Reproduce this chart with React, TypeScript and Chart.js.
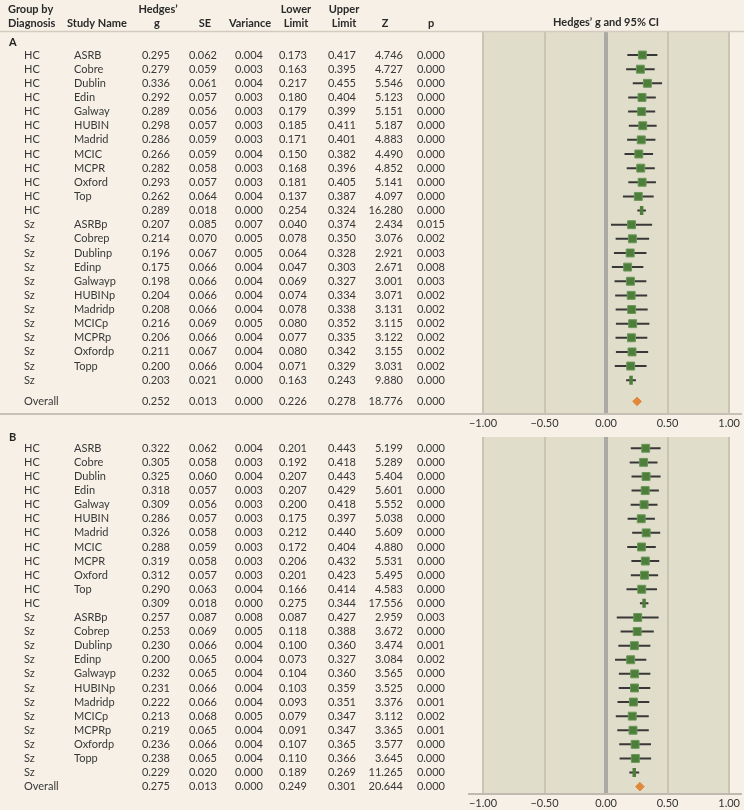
import React, { useEffect, useRef } from "react";
import { Chart, registerables } from "chart.js";

Chart.register(...registerables);

// ---------- data ----------
const groupLabels = [
  "HC", "HC", "HC", "HC", "HC", "HC", "HC", "HC", "HC", "HC", "HC", "HC",
  "Sz", "Sz", "Sz", "Sz", "Sz", "Sz", "Sz", "Sz", "Sz", "Sz", "Sz", "Sz",
  "Overall",
];
const studyLabels = [
  "ASRB", "Cobre", "Dublin", "Edin", "Galway", "HUBIN", "Madrid", "MCIC", "MCPR", "Oxford", "Top", "",
  "ASRBp", "Cobrep", "Dublinp", "Edinp", "Galwayp", "HUBINp", "Madridp", "MCICp", "MCPRp", "Oxfordp", "Topp", "",
  "",
];
const rowKinds = [
  "study", "study", "study", "study", "study", "study", "study", "study", "study", "study", "study", "subtotal",
  "study", "study", "study", "study", "study", "study", "study", "study", "study", "study", "study", "subtotal",
  "overall",
];

// Panel A
const hedgesA = [0.295, 0.279, 0.336, 0.292, 0.289, 0.298, 0.286, 0.266, 0.282, 0.293, 0.262, 0.289,
  0.207, 0.214, 0.196, 0.175, 0.198, 0.204, 0.208, 0.216, 0.206, 0.211, 0.200, 0.203, 0.252];
const seA = [0.062, 0.059, 0.061, 0.057, 0.056, 0.057, 0.059, 0.059, 0.058, 0.057, 0.064, 0.018,
  0.085, 0.070, 0.067, 0.066, 0.066, 0.066, 0.066, 0.069, 0.066, 0.067, 0.066, 0.021, 0.013];
const varianceA = [0.004, 0.003, 0.004, 0.003, 0.003, 0.003, 0.003, 0.004, 0.003, 0.003, 0.004, 0.000,
  0.007, 0.005, 0.005, 0.004, 0.004, 0.004, 0.004, 0.005, 0.004, 0.004, 0.004, 0.000, 0.000];
const lowerA = [0.173, 0.163, 0.217, 0.180, 0.179, 0.185, 0.171, 0.150, 0.168, 0.181, 0.137, 0.254,
  0.040, 0.078, 0.064, 0.047, 0.069, 0.074, 0.078, 0.080, 0.077, 0.080, 0.071, 0.163, 0.226];
const upperA = [0.417, 0.395, 0.455, 0.404, 0.399, 0.411, 0.401, 0.382, 0.396, 0.405, 0.387, 0.324,
  0.374, 0.350, 0.328, 0.303, 0.327, 0.334, 0.338, 0.352, 0.335, 0.342, 0.329, 0.243, 0.278];
const zA = [4.746, 4.727, 5.546, 5.123, 5.151, 5.187, 4.883, 4.490, 4.852, 5.141, 4.097, 16.280,
  2.434, 3.076, 2.921, 2.671, 3.001, 3.071, 3.131, 3.115, 3.122, 3.155, 3.031, 9.880, 18.776];
const pA = [0.000, 0.000, 0.000, 0.000, 0.000, 0.000, 0.000, 0.000, 0.000, 0.000, 0.000, 0.000,
  0.015, 0.002, 0.003, 0.008, 0.003, 0.002, 0.002, 0.002, 0.002, 0.002, 0.002, 0.000, 0.000];

// Panel B
const hedgesB = [0.322, 0.305, 0.325, 0.318, 0.309, 0.286, 0.326, 0.288, 0.319, 0.312, 0.290, 0.309,
  0.257, 0.253, 0.230, 0.200, 0.232, 0.231, 0.222, 0.213, 0.219, 0.236, 0.238, 0.229, 0.275];
const seB = [0.062, 0.058, 0.060, 0.057, 0.056, 0.057, 0.058, 0.059, 0.058, 0.057, 0.063, 0.018,
  0.087, 0.069, 0.066, 0.065, 0.065, 0.066, 0.066, 0.068, 0.065, 0.066, 0.065, 0.020, 0.013];
const varianceB = [0.004, 0.003, 0.004, 0.003, 0.003, 0.003, 0.003, 0.003, 0.003, 0.003, 0.004, 0.000,
  0.008, 0.005, 0.004, 0.004, 0.004, 0.004, 0.004, 0.005, 0.004, 0.004, 0.004, 0.000, 0.000];
const lowerB = [0.201, 0.192, 0.207, 0.207, 0.200, 0.175, 0.212, 0.172, 0.206, 0.201, 0.166, 0.275,
  0.087, 0.118, 0.100, 0.073, 0.104, 0.103, 0.093, 0.079, 0.091, 0.107, 0.110, 0.189, 0.249];
const upperB = [0.443, 0.418, 0.443, 0.429, 0.418, 0.397, 0.440, 0.404, 0.432, 0.423, 0.414, 0.344,
  0.427, 0.388, 0.360, 0.327, 0.360, 0.359, 0.351, 0.347, 0.347, 0.365, 0.366, 0.269, 0.301];
const zB = [5.199, 5.289, 5.404, 5.601, 5.552, 5.038, 5.609, 4.880, 5.531, 5.495, 4.583, 17.556,
  2.959, 3.672, 3.474, 3.084, 3.565, 3.525, 3.376, 3.112, 3.365, 3.577, 3.645, 11.265, 20.644];
const pB = [0.000, 0.000, 0.000, 0.000, 0.000, 0.000, 0.000, 0.000, 0.000, 0.000, 0.000, 0.000,
  0.003, 0.000, 0.001, 0.002, 0.000, 0.000, 0.001, 0.002, 0.001, 0.000, 0.000, 0.000, 0.000];

const axisTicks = [-1, -0.5, 0, 0.5, 1];
const headerTitle = "Hedges\u2019 g and 95% CI";

// ---------- styling ----------
const FONT = "Lato";
const CREAM = "#f6f0e6";
const PLOT_BG = "#e0ddca";
const GRID = "#c9c5b2";
const ZERO = "#aba9a3";
const GREEN = "#4d7f3b";
const ORANGE = "#e0883c";
const CI_COLOR = "#383838";
const TEXT = "#383838";

const colRight = [170, 217, 263, 307, 356, 403, 445];

type Panel = {
  key: string;
  label: string;
  cols: number[][];
  overallGap: number;
  yMin: number;
  yMax: number;
  labelPos: number;
  padTop: number;
  padBottom: number;
  axisHeight: number;
  header: boolean;
};

function rowPositions(n: number, overallGap: number) {
  return Array.from({ length: n }, (_, i) => (rowKinds[i] === "overall" ? i + overallGap : i));
}

function fmtTick(v: number) {
  const s = Math.abs(v).toFixed(2);
  return v < -1e-9 ? "\u2212" + s : s;
}

function buildConfig(p: Panel): any {
  const hedges = p.cols[0];
  const lower = p.cols[3];
  const upper = p.cols[4];
  const pos = rowPositions(groupLabels.length, p.overallGap);

  const pick = (kind: string) =>
    hedges.map((g, i) => ({ x: g, y: pos[i], k: rowKinds[i] })).filter((d) => d.k === kind).map((d) => ({ x: d.x, y: d.y }));

  const datasets: any[] = [
    {
      label: "study",
      data: pick("study"),
      pointStyle: "rect",
      pointRadius: 5.6,
      backgroundColor: GREEN,
      borderColor: "#6a985a",
      borderWidth: 1,
      order: 0,
    },
    {
      label: "subtotal",
      data: pick("subtotal"),
      pointStyle: "line",
      rotation: 90,
      pointRadius: 4.5,
      borderColor: GREEN,
      backgroundColor: GREEN,
      borderWidth: 3.5,
      order: 0,
    },
    {
      label: "overall",
      data: pick("overall"),
      pointStyle: "rectRot",
      pointRadius: 4.3,
      backgroundColor: ORANGE,
      borderColor: ORANGE,
      borderWidth: 1,
      order: 0,
    },
  ];
  lower.forEach((lo, i) => {
    if (rowKinds[i] === "overall") return;
    datasets.push({
      label: "ci" + i,
      data: [
        { x: lo, y: pos[i] },
        { x: upper[i], y: pos[i] },
      ],
      showLine: true,
      borderColor: CI_COLOR,
      borderWidth: 2,
      pointRadius: 0,
      order: 1,
    });
  });

  const plugin = {
    id: "panel" + p.key,
    beforeDraw(chart: any) {
      const { ctx, chartArea: ca } = chart;
      ctx.save();
      ctx.fillStyle = PLOT_BG;
      ctx.fillRect(ca.left, ca.top, ca.right - ca.left, ca.bottom - ca.top);
      ctx.restore();
    },
    afterDraw(chart: any) {
      const { ctx, chartArea: ca } = chart;
      const ys = chart.scales.y;
      ctx.save();
      // table body
      ctx.font = `11px ${FONT}`;
      ctx.fillStyle = TEXT;
      ctx.textBaseline = "middle";
      for (let i = 0; i < groupLabels.length; i++) {
        const py = ys.getPixelForValue(pos[i]);
        ctx.textAlign = "left";
        ctx.fillText(groupLabels[i], 24, py);
        if (studyLabels[i]) ctx.fillText(studyLabels[i], 74, py);
        ctx.textAlign = "right";
        p.cols.forEach((arr, c) => {
          ctx.fillText(arr[i].toFixed(3), colRight[c], py);
        });
      }
      // panel label
      ctx.font = `bold 11px ${FONT}`;
      ctx.fillStyle = "#222";
      ctx.textAlign = "left";
      ctx.fillText(p.label, 9, ys.getPixelForValue(p.labelPos));

      if (p.header) {
        ctx.fillStyle = "#2a2a2a";
        ctx.font = `bold 11px ${FONT}`;
        const l1 = 9;
        const l2 = 23;
        ctx.textAlign = "left";
        ctx.fillText("Group by", 8, l1);
        ctx.fillText("Diagnosis", 8, l2);
        ctx.fillText("Study Name", 67, l2);
        ctx.textAlign = "center";
        ctx.fillText("Hedges\u2019", 158, l1);
        ctx.fillText("g", 157, l2);
        ctx.fillText("SE", 205, l2);
        ctx.fillText("Variance", 250, l2);
        ctx.fillText("Lower", 296, l1);
        ctx.fillText("Limit", 296, l2);
        ctx.fillText("Upper", 344, l1);
        ctx.fillText("Limit", 344, l2);
        ctx.fillText("Z", 385, l2);
        ctx.fillText("p", 431, l2);
        ctx.fillText(headerTitle, (ca.left + ca.right) / 2, 22);
        // header rule
        ctx.strokeStyle = "#d2ccc0";
        ctx.lineWidth = 1.5;
        ctx.beginPath();
        ctx.moveTo(0, ca.top - 0.5);
        ctx.lineTo(744, ca.top - 0.5);
        ctx.stroke();
        // bottom separator (axis line across)
        ctx.strokeStyle = "#c6c1b6";
        ctx.lineWidth = 2;
        ctx.beginPath();
        ctx.moveTo(0, ca.bottom + 1);
        ctx.lineTo(742, ca.bottom + 1);
        ctx.stroke();
      } else {
        ctx.strokeStyle = "#bfbaaf";
        ctx.lineWidth = 2;
        ctx.beginPath();
        ctx.moveTo(468, ca.bottom + 1);
        ctx.lineTo(742, ca.bottom + 1);
        ctx.stroke();
      }
      ctx.restore();
    },
  };

  return {
    type: "scatter",
    data: { datasets },
    plugins: [plugin],
    options: {
      animation: false,
      responsive: false,
      maintainAspectRatio: false,
      devicePixelRatio: 1,
      events: [],
      layout: { padding: { left: 483, right: 14, top: p.padTop, bottom: p.padBottom } },
      plugins: { legend: { display: false }, tooltip: { enabled: false } },
      scales: {
        x: {
          type: "linear",
          min: axisTicks[0],
          max: axisTicks[axisTicks.length - 1],
          afterBuildTicks: (s: any) => {
            s.ticks = axisTicks.map((v) => ({ value: v }));
          },
          afterFit: (s: any) => {
            s.height = p.axisHeight;
          },
          border: { display: false },
          grid: {
            drawTicks: false,
            color: (c: any) => (c.tick && Math.abs(c.tick.value) < 1e-9 ? ZERO : GRID),
            lineWidth: (c: any) => (c.tick && Math.abs(c.tick.value) < 1e-9 ? 4 : 2),
          },
          ticks: {
            padding: 4,
            color: "#333",
            font: { family: FONT, size: 11 },
            callback: (v: any) => fmtTick(Number(v)),
            maxRotation: 0,
            autoSkip: false,
          },
        },
        y: {
          type: "linear",
          reverse: true,
          min: p.yMin,
          max: p.yMax,
          display: false,
        },
      },
    },
  };
}

const panelA: Panel = {
  key: "A",
  label: "A",
  cols: [hedgesA, seA, varianceA, lowerA, upperA, zA, pA],
  overallGap: 0.5,
  yMin: -1.63,
  yMax: 25.32,
  labelPos: -0.9,
  padTop: 32,
  padBottom: 810 - 413 - 24,
  axisHeight: 24,
  header: true,
};

const panelB: Panel = {
  key: "B",
  label: "B",
  cols: [hedgesB, seB, varianceB, lowerB, upperB, zB, pB],
  overallGap: 0,
  yMin: -0.8,
  yMax: 24.45,
  labelPos: -0.75,
  padTop: 437,
  padBottom: 0,
  axisHeight: 17,
  header: false,
};

export default function App() {
  const refA = useRef<HTMLCanvasElement>(null);
  const refB = useRef<HTMLCanvasElement>(null);

  useEffect(() => {
    document.body.style.margin = "0";
    document.body.style.background = CREAM;
    const a = new Chart(refA.current as HTMLCanvasElement, buildConfig(panelA));
    const b = new Chart(refB.current as HTMLCanvasElement, buildConfig(panelB));
    return () => {
      a.destroy();
      b.destroy();
    };
  }, []);

  return (
    <div style={{ position: "relative", width: 744, height: 810, background: CREAM }}>
      <canvas ref={refA} width={744} height={810} style={{ position: "absolute", left: 0, top: 0 }} />
      <canvas ref={refB} width={744} height={810} style={{ position: "absolute", left: 0, top: 0 }} />
    </div>
  );
}
